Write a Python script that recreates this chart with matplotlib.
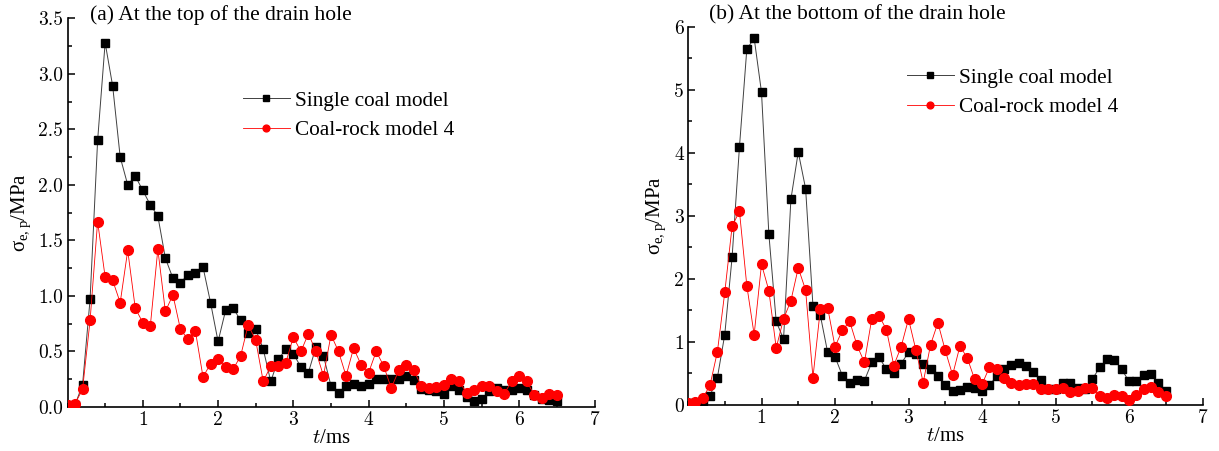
import numpy as np
import matplotlib
matplotlib.use("Agg")
import matplotlib.pyplot as plt
from matplotlib.ticker import MultipleLocator

plt.rcParams['font.family'] = ['Liberation Serif', 'DejaVu Serif']
plt.rcParams['mathtext.fontset'] = 'cm'

# time steps, ms
t = np.round(np.arange(0, 6.51, 0.1), 1)

# (a) top of the drain hole
top_single = [0.01, 0.02, 0.20, 0.97, 2.40, 3.28, 2.89, 2.25, 2.00, 2.08,
              1.95, 1.82, 1.72, 1.34, 1.16, 1.12, 1.19, 1.21, 1.26, 0.94,
              0.59, 0.87, 0.89, 0.78, 0.67, 0.70, 0.52, 0.23, 0.43, 0.52,
              0.48, 0.36, 0.31, 0.54, 0.46, 0.19, 0.13, 0.19, 0.21, 0.19,
              0.21, 0.25, 0.25, 0.25, 0.25, 0.28, 0.24, 0.16, 0.15, 0.14,
              0.12, 0.19, 0.15, 0.09, 0.05, 0.07, 0.14, 0.17, 0.15, 0.15,
              0.17, 0.15, 0.11, 0.07, 0.06, 0.05]
top_rock = [0.02, 0.03, 0.16, 0.78, 1.67, 1.17, 1.14, 0.94, 1.41, 0.89,
            0.76, 0.73, 1.42, 0.86, 1.01, 0.70, 0.61, 0.68, 0.27, 0.39,
            0.43, 0.36, 0.34, 0.46, 0.74, 0.60, 0.23, 0.37, 0.37, 0.40,
            0.63, 0.50, 0.66, 0.50, 0.28, 0.65, 0.50, 0.28, 0.53, 0.38,
            0.31, 0.50, 0.37, 0.17, 0.33, 0.38, 0.33, 0.19, 0.17, 0.18,
            0.20, 0.25, 0.23, 0.13, 0.15, 0.19, 0.19, 0.14, 0.12, 0.23,
            0.28, 0.23, 0.11, 0.08, 0.12, 0.11]

# (b) bottom of the drain hole
bot_single = [0.02, 0.03, 0.05, 0.14, 0.43, 1.11, 2.34, 4.09, 5.64, 5.82,
              4.96, 2.71, 1.32, 1.04, 3.26, 4.01, 3.43, 1.57, 1.42, 0.83,
              0.76, 0.46, 0.34, 0.39, 0.38, 0.67, 0.75, 0.56, 0.50, 0.65,
              0.83, 0.80, 0.64, 0.56, 0.46, 0.31, 0.21, 0.23, 0.28, 0.27,
              0.21, 0.31, 0.45, 0.57, 0.63, 0.66, 0.62, 0.52, 0.39, 0.25,
              0.24, 0.35, 0.35, 0.27, 0.24, 0.40, 0.59, 0.72, 0.71, 0.56,
              0.37, 0.37, 0.47, 0.48, 0.34, 0.21]
bot_rock = [0.02, 0.04, 0.10, 0.31, 0.84, 1.78, 2.83, 3.07, 1.89, 1.11,
            2.23, 1.81, 0.90, 1.36, 1.65, 2.17, 1.82, 0.43, 1.51, 1.54,
            0.92, 1.18, 1.32, 0.94, 0.67, 1.36, 1.41, 1.19, 0.62, 0.92,
            1.36, 0.87, 0.35, 0.95, 1.30, 0.86, 0.47, 0.93, 0.74, 0.40,
            0.32, 0.59, 0.57, 0.42, 0.35, 0.31, 0.33, 0.32, 0.24, 0.24,
            0.25, 0.27, 0.20, 0.22, 0.26, 0.26, 0.14, 0.11, 0.16, 0.14,
            0.08, 0.15, 0.24, 0.28, 0.20, 0.13]

labels = ['Single coal model', 'Coal-rock model 4']
titles = ['(a) At the top of the drain hole', '(b) At the bottom of the drain hole']

W, H = 1219, 451
fig = plt.figure(figsize=(W / 100, H / 100), dpi=100)

def px_box(x0, x1, y_bot, y_top):
    return [x0 / W, 1 - y_bot / H, (x1 - x0) / W, (y_bot - y_top) / H]

ax_a = fig.add_axes(px_box(67.5, 594.5, 407, 18.3))
ax_b = fig.add_axes(px_box(688, 1202.5, 404.6, 26.7))

def draw_panel(ax, single, rock, ymax, ymajor, yminor, yfmt):
    ax.plot(t, single, color='#404040', lw=0.7, marker='s', ms=6,
            mfc='black', mec='black', label=labels[0], zorder=3)
    ax.plot(t, rock, color='#ff0000', lw=0.6, marker='o', ms=7,
            mfc='#ff0000', mec='#ff0000', label=labels[1], zorder=4)
    ax.set_xlim(0, 7)
    ax.set_ylim(0, ymax)
    ax.set_xticks(range(1, 8))
    ax.xaxis.set_minor_locator(MultipleLocator(0.5))
    ax.yaxis.set_major_locator(MultipleLocator(ymajor))
    ax.yaxis.set_minor_locator(MultipleLocator(yminor))
    ax.yaxis.set_major_formatter(plt.FormatStrFormatter(yfmt))
    for s in ('top', 'right'):
        ax.spines[s].set_visible(False)
    for s in ('left', 'bottom'):
        ax.spines[s].set_linewidth(1.2)
    ax.tick_params(which='both', direction='in', width=1.1, labelsize=14,
                   pad=3, labelfontfamily='cmr10')
    ax.tick_params(which='major', length=5)
    ax.tick_params(which='minor', length=3)
    ax.set_xlabel(r'$t$/ms', fontsize=15, labelpad=0)
    ax.set_ylabel(r'$\mathregular{σ_{e,p}}$/MPa', fontsize=15, labelpad=4)

draw_panel(ax_a, top_single, top_rock, 3.5, 0.5, 0.25, '%.1f')
draw_panel(ax_b, bot_single, bot_rock, 6, 1, 0.5, '%g')

fig.text(90 / W, 1 - 15 / H, titles[0], fontsize=15.5, va='center', ha='left')
fig.text(709 / W, 1 - 15 / H, titles[1], fontsize=15.5, va='center', ha='left')

for ax, (lx, ly) in ((ax_a, (243, 91)), (ax_b, (907, 68))):
    ax.legend(loc='upper left', bbox_to_anchor=(lx / W, 1 - ly / H),
              bbox_transform=fig.transFigure, frameon=False, fontsize=15.3,
              borderaxespad=0, borderpad=0, handlelength=2.2,
              handletextpad=0.25, labelspacing=0.45, markerscale=0.7)

fig.savefig('out.png', dpi=100)
